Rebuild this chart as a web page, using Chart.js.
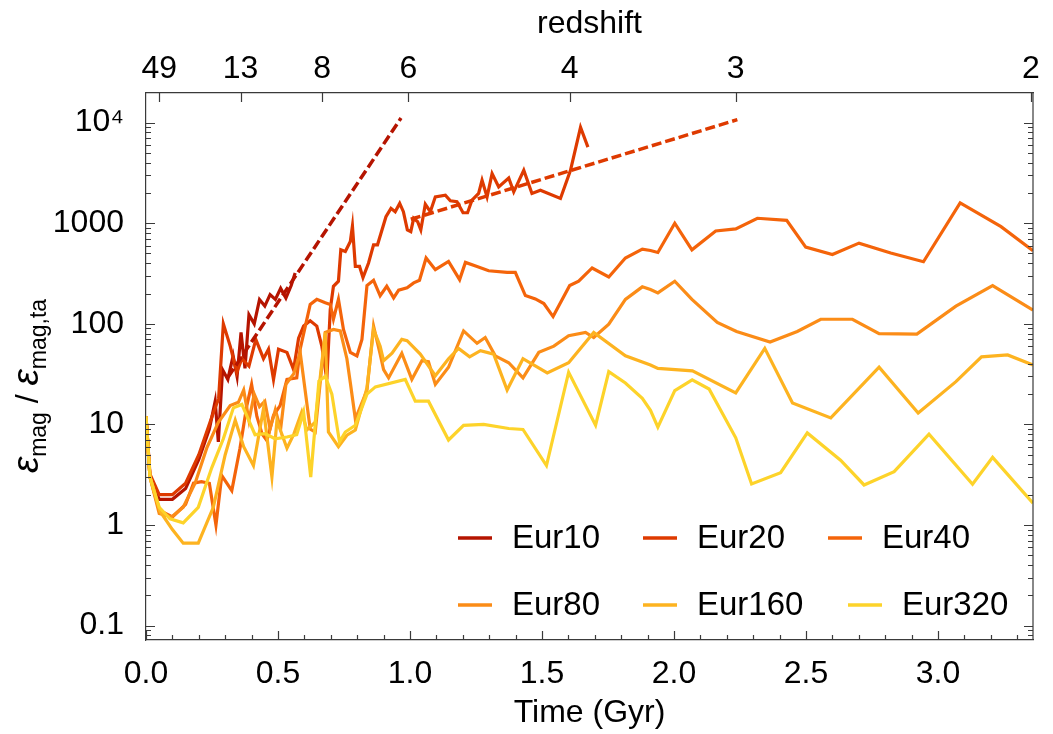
<!DOCTYPE html>
<html>
<head>
<meta charset="utf-8">
<script src="https://cdn.jsdelivr.net/npm/chart.js@4.4.1/dist/chart.umd.min.js"></script>
<style>
  html, body { margin: 0; padding: 0; background: #fff; }
</style>
</head>
<body>
<canvas id="myChart" width="1053" height="734"></canvas>
<script>
// time in Gyr, ratio eps_mag / eps_mag,ta
const t10 = [0, 0.015, 0.05, 0.10, 0.15, 0.20, 0.24, 0.262, 0.274, 0.29, 0.31, 0.33, 0.345, 0.36, 0.375, 0.39, 0.41, 0.43, 0.45, 0.47, 0.49, 0.51, 0.53, 0.55, 0.565];
const v10 = [12, 3.0, 1.8, 1.8, 2.3, 4.5, 9, 17, 6.7, 35, 28, 48, 30, 82, 36, 123, 100, 174, 150, 195, 175, 225, 180, 240, 320];

const t20 = [0, 0.015, 0.05, 0.10, 0.15, 0.20, 0.25, 0.275, 0.293, 0.319, 0.344, 0.363, 0.39, 0.416, 0.445, 0.464, 0.483, 0.502, 0.534, 0.559, 0.578, 0.597, 0.622, 0.647, 0.666, 0.685, 0.698, 0.71, 0.729, 0.738, 0.755, 0.774, 0.782, 0.793, 0.809, 0.822, 0.843, 0.862, 0.877, 0.909, 0.928, 0.944, 0.961, 0.975, 0.99, 1.003, 1.014, 1.029, 1.041, 1.058, 1.077, 1.096, 1.134, 1.153, 1.178, 1.201, 1.218, 1.235, 1.26, 1.273, 1.292, 1.311, 1.336, 1.374, 1.393, 1.431, 1.462, 1.494, 1.57, 1.608, 1.646, 1.674];
const v20 = [12, 3.2, 2.0, 2.0, 2.6, 5, 12, 18, 100, 60, 33, 45, 38, 70, 45, 56, 28, 56, 52, 35, 72, 95, 107, 95, 60, 28, 139, 236, 265, 544, 524, 657, 939, 372, 372, 288, 402, 610, 610, 1161, 1406, 1302, 1575, 1302, 858, 826, 1119, 1036, 858, 1542, 1300, 1829, 1901, 1671, 1633, 1271, 1271, 1698, 1977, 2675, 1829, 3114, 2296, 2818, 2050, 3357, 1977, 2130, 1764, 3357, 8990, 5700];

const t40 = [0, 0.015, 0.05, 0.10, 0.15, 0.18, 0.21, 0.24, 0.265, 0.287, 0.325, 0.356, 0.382, 0.40, 0.42, 0.44, 0.458, 0.483, 0.508, 0.534, 0.571, 0.584, 0.622, 0.647, 0.679, 0.698, 0.71, 0.729, 0.748, 0.774, 0.799, 0.818, 0.837, 0.862, 0.887, 0.912, 0.938, 0.957, 0.989, 1.014, 1.036, 1.061, 1.096, 1.146, 1.188, 1.21, 1.254, 1.298, 1.368, 1.399, 1.437, 1.475, 1.507, 1.542, 1.605, 1.639, 1.69, 1.753, 1.816, 1.88, 1.911, 1.939, 2.003, 2.068, 2.158, 2.234, 2.316, 2.427, 2.499, 2.6, 2.701, 2.821, 2.945, 3.084, 3.239, 3.36];
const v40 = [12, 3.0, 1.4, 1.2, 1.6, 2.6, 2.7, 2.6, 1.0, 3.1, 2.2, 5.8, 15.4, 25, 12, 8, 6.9, 12.3, 15.4, 28, 29, 56, 156, 175, 162, 156, 111, 175, 88, 52, 48, 70, 240, 271, 190, 236, 181, 216, 228, 255, 271, 451, 345, 417, 275, 408, 372, 337, 325, 325, 191, 177, 159, 118, 240, 265, 359, 292, 451, 553, 536, 512, 1000, 544, 838, 877, 1120, 1069, 579, 489, 634, 505, 414, 1596, 925, 532];

const t80 = [0, 0.015, 0.05, 0.097, 0.141, 0.186, 0.23, 0.274, 0.319, 0.35, 0.37, 0.39, 0.41, 0.43, 0.45, 0.47, 0.49, 0.51, 0.53, 0.56, 0.584, 0.622, 0.641, 0.679, 0.71, 0.736, 0.761, 0.774, 0.793, 0.837, 0.862, 0.887, 0.90, 0.919, 0.969, 1.007, 1.045, 1.07, 1.096, 1.146, 1.203, 1.254, 1.285, 1.323, 1.374, 1.428, 1.488, 1.545, 1.601, 1.665, 1.696, 1.753, 1.816, 1.88, 1.911, 1.939, 2.003, 2.068, 2.164, 2.237, 2.364, 2.467, 2.556, 2.676, 2.777, 2.92, 3.068, 3.207, 3.36];
const v80 = [12, 3.0, 1.3, 1.2, 1.5, 2.6, 5.8, 10.5, 15.4, 16.6, 22, 11, 20, 15, 17, 9, 14, 9, 25, 32, 52, 9, 8.4, 82, 88, 85, 45, 26, 11.3, 21.8, 95, 50, 35, 29, 51, 28, 43, 42, 25, 37, 85, 64, 73, 48, 41, 29, 52, 60, 76, 82, 73, 99, 175, 233, 219, 203, 265, 175, 103, 84, 66, 84, 111, 111, 80, 79, 150, 240, 137];

const t160 = [0, 0.015, 0.053, 0.10, 0.141, 0.198, 0.255, 0.30, 0.338, 0.37, 0.407, 0.445, 0.477, 0.496, 0.534, 0.56, 0.59, 0.609, 0.641, 0.679, 0.691, 0.729, 0.761, 0.793, 0.837, 0.862, 0.887, 0.90, 0.932, 0.969, 0.989, 1.039, 1.096, 1.146, 1.184, 1.226, 1.267, 1.317, 1.368, 1.428, 1.52, 1.601, 1.696, 1.816, 1.911, 1.939, 2.07, 2.234, 2.344, 2.449, 2.594, 2.777, 2.925, 3.068, 3.165, 3.264, 3.36];
const v160 = [12, 3.0, 1.37, 0.9, 0.66, 0.66, 1.5, 5, 11, 6, 3.9, 14.3, 3.0, 10.9, 5.8, 8, 13.3, 8.8, 10.5, 82, 8.4, 6, 7.8, 8.8, 23, 88, 60, 43, 51, 70, 68, 50, 30.5, 45, 57, 47, 54, 50, 22, 45, 32.5, 41, 82, 48, 39, 36, 34, 20.6, 57, 16.3, 11.6, 37, 13, 26.6, 47, 49, 39];

const t320 = [0, 0.015, 0.05, 0.091, 0.141, 0.198, 0.249, 0.293, 0.331, 0.363, 0.413, 0.451, 0.489, 0.534, 0.571, 0.597, 0.624, 0.655, 0.679, 0.704, 0.733, 0.755, 0.793, 0.837, 0.869, 0.982, 1.02, 1.07, 1.146, 1.203, 1.279, 1.374, 1.428, 1.517, 1.601, 1.703, 1.753, 1.816, 1.88, 1.911, 1.939, 2.003, 2.069, 2.133, 2.234, 2.294, 2.404, 2.505, 2.631, 2.72, 2.834, 2.966, 3.131, 3.207, 3.36];
const v320 = [12, 3.0, 1.5, 1.15, 1.05, 1.5, 3.7, 7.2, 14.6, 15.8, 7.9, 8.1, 7.2, 7.5, 7.9, 13.3, 3.0, 27, 30, 20, 6.7, 8.4, 9.8, 20, 23.6, 28, 17, 17, 7, 9.8, 10, 9.1, 8.9, 3.9, 33, 9.8, 33.4, 25.8, 18.2, 13.8, 9.4, 21.7, 27.7, 22.5, 7.35, 2.56, 3.31, 8.22, 4.41, 2.5, 3.39, 7.98, 2.54, 4.7, 1.65];

// power-law growth fits (straight on the log axis)
const tFit10 = [0.311, 0.966];
const vFit10 = [29.6, 11100];
const tFit20 = [1.003, 2.24];
const vFit20 = [1094, 10700];

// axes
const xMax = 3.36;
const yMin = 0.0719;
const yMax = 19700;
const timeTicks = [0, 0.5, 1.0, 1.5, 2.0, 2.5, 3.0];
const zTimes = [0.05, 0.358, 0.667, 0.994, 1.605, 2.234, 3.352];
const zLabels = ['49', '13', '8', '6', '4', '3', '2'];
const yTicks = [0.1, 1, 10, 100, 1000, 10000];
const yLabels = ['0.1', '1', '10', '100', '1000', '10\u2074'];

const names = ['Eur10', 'Eur20', 'Eur40', 'Eur80', 'Eur160', 'Eur320'];
const colors = ['#b51400', '#de3a00', '#f4640a', '#fb8c17', '#fdb320', '#fdd32a'];

const FONT = '"Liberation Sans", Arial, Helvetica, sans-serif';
const FRAME = '#3a3a3a';

const pts = (ts, vs) => ts.map((t, i) => ({ x: t, y: vs[i] }));
const series = [[t10, v10], [t20, v20], [t40, v40], [t80, v80], [t160, v160], [t320, v320]];

const datasets = series.map(([ts, vs], i) => ({
    label: names[i],
    data: pts(ts, vs),
    borderColor: colors[i],
    borderWidth: 3.2,
    order: 10 - i,
}));
datasets.push({
    label: 'fit10',
    data: pts(tFit10, vFit10),
    borderColor: colors[0],
    borderWidth: 3.5,
    borderDash: [10, 4],
    order: 1,
});
datasets.push({
    label: 'fit20',
    data: pts(tFit20, vFit20),
    borderColor: colors[1],
    borderWidth: 3.5,
    borderDash: [10, 4],
    order: 1,
});

// inward tick marks on all four sides plus the right frame edge
const frameTicks = {
    id: 'frameTicks',
    afterDraw(chart) {
        const { ctx, chartArea: a, scales } = chart;
        ctx.save();
        ctx.strokeStyle = FRAME;
        ctx.lineWidth = 1.2;
        ctx.beginPath();
        ctx.moveTo(a.right, a.top);
        ctx.lineTo(a.right, a.bottom);
        for (let k = 0; k / 10 <= xMax; k++) {
            const px = Math.round(scales.x.getPixelForValue(k / 10)) + 0.5;
            const len = k % 5 === 0 ? 9 : 5;
            ctx.moveTo(px, a.bottom);
            ctx.lineTo(px, a.bottom - len);
        }
        zTimes.forEach((z) => {
            const px = Math.round(scales.x2.getPixelForValue(z)) + 0.5;
            ctx.moveTo(px, a.top);
            ctx.lineTo(px, a.top + 9);
        });
        for (let d = -2; d <= 4; d++) {
            for (let m = 1; m <= 9; m++) {
                const v = m * Math.pow(10, d);
                if (v < yMin || v > yMax) continue;
                const py = Math.round(scales.y.getPixelForValue(v)) + 0.5;
                const len = m === 1 ? 9 : 5;
                ctx.moveTo(a.left, py);
                ctx.lineTo(a.left + len, py);
                ctx.moveTo(a.right, py);
                ctx.lineTo(a.right - len, py);
            }
        }
        ctx.stroke();
        ctx.restore();
    },
};

// rotated y title with subscripts
const yTitle = {
    id: 'yTitle',
    afterDraw(chart) {
        const { ctx } = chart;
        const parts = [
            { text: '\u03b5', font: `italic 37px ${FONT}`, dy: 0 },
            { text: 'mag', font: `23px ${FONT}`, dy: 8 },
            { text: ' / ', font: `32px ${FONT}`, dy: 0 },
            { text: '\u03b5', font: `italic 37px ${FONT}`, dy: 0 },
            { text: 'mag,ta', font: `23px ${FONT}`, dy: 8 },
        ];
        ctx.save();
        let total = 0;
        parts.forEach((p) => {
            ctx.font = p.font;
            p.w = ctx.measureText(p.text).width;
            total += p.w;
        });
        ctx.translate(38, 386);
        ctx.rotate(-Math.PI / 2);
        ctx.fillStyle = '#000';
        ctx.textBaseline = 'alphabetic';
        let x = -total / 2;
        parts.forEach((p) => {
            ctx.font = p.font;
            ctx.fillText(p.text, x, p.dy);
            x += p.w;
        });
        ctx.restore();
    },
};

// two-row legend inside the plot
const legendBox = {
    id: 'legendBox',
    afterDraw(chart) {
        const { ctx } = chart;
        const rows = [[0, 1, 2], [3, 4, 5]];
        const rowY = [538, 605];
        ctx.save();
        ctx.font = `33px ${FONT}`;
        ctx.textBaseline = 'middle';
        rows.forEach((row, r) => {
            let x = 458;
            row.forEach((i) => {
                ctx.strokeStyle = colors[i];
                ctx.lineWidth = 3.5;
                ctx.beginPath();
                ctx.moveTo(x, rowY[r]);
                ctx.lineTo(x + 34, rowY[r]);
                ctx.stroke();
                ctx.fillStyle = '#000';
                ctx.fillText(names[i], x + 54, rowY[r] + 1);
                x += 185;
                if (i === 4) x += 20;
            });
        });
        ctx.restore();
    },
};

const tickFont = { family: FONT, size: 32 };

const ctx = document.getElementById('myChart').getContext('2d');
const myChart = new Chart(ctx, {
    type: 'line',
    data: { datasets },
    options: {
        responsive: false,
        animation: false,
        parsing: false,
        layout: { padding: { top: 0, right: 20, bottom: 0, left: 0 } },
        elements: { point: { radius: 0 }, line: { tension: 0 } },
        plugins: { legend: { display: false }, tooltip: { enabled: false } },
        scales: {
            x: {
                type: 'linear',
                position: 'bottom',
                min: 0,
                max: xMax,
                afterBuildTicks: (ax) => { ax.ticks = timeTicks.map((v) => ({ value: v })); },
                ticks: {
                    callback: (v) => v.toFixed(1),
                    font: tickFont,
                    color: '#000',
                    padding: 7,
                    maxRotation: 0,
                    autoSkip: false,
                },
                grid: { display: false },
                border: { display: true, color: FRAME, width: 1.2 },
                title: {
                    display: true,
                    text: 'Time (Gyr)',
                    font: tickFont,
                    color: '#000',
                    padding: { top: 0, bottom: 2 },
                },
                afterFit: (s) => { s.height = 94; },
            },
            x2: {
                type: 'linear',
                position: 'top',
                min: 0,
                max: xMax,
                afterBuildTicks: (ax) => { ax.ticks = zTimes.map((v) => ({ value: v })); },
                ticks: {
                    callback: (v, i) => zLabels[i],
                    font: tickFont,
                    color: '#000',
                    padding: 5,
                    maxRotation: 0,
                    autoSkip: false,
                },
                grid: { display: false, drawTicks: false },
                border: { display: true, color: FRAME, width: 1.2 },
                title: {
                    display: true,
                    text: 'redshift',
                    font: tickFont,
                    color: '#000',
                    padding: { top: 5, bottom: 0 },
                },
                afterFit: (s) => { s.height = 93; },
            },
            y: {
                type: 'logarithmic',
                min: yMin,
                max: yMax,
                afterBuildTicks: (ax) => { ax.ticks = yTicks.map((v) => ({ value: v })); },
                ticks: {
                    callback: (v, i) => yLabels[i],
                    font: tickFont,
                    color: '#000',
                    padding: 14,
                    autoSkip: false,
                },
                grid: { display: false },
                border: { display: true, color: FRAME, width: 1.2 },
                afterFit: (s) => { s.width = 146; },
            },
        },
    },
    plugins: [frameTicks, yTitle, legendBox],
});
</script>
</body>
</html>
